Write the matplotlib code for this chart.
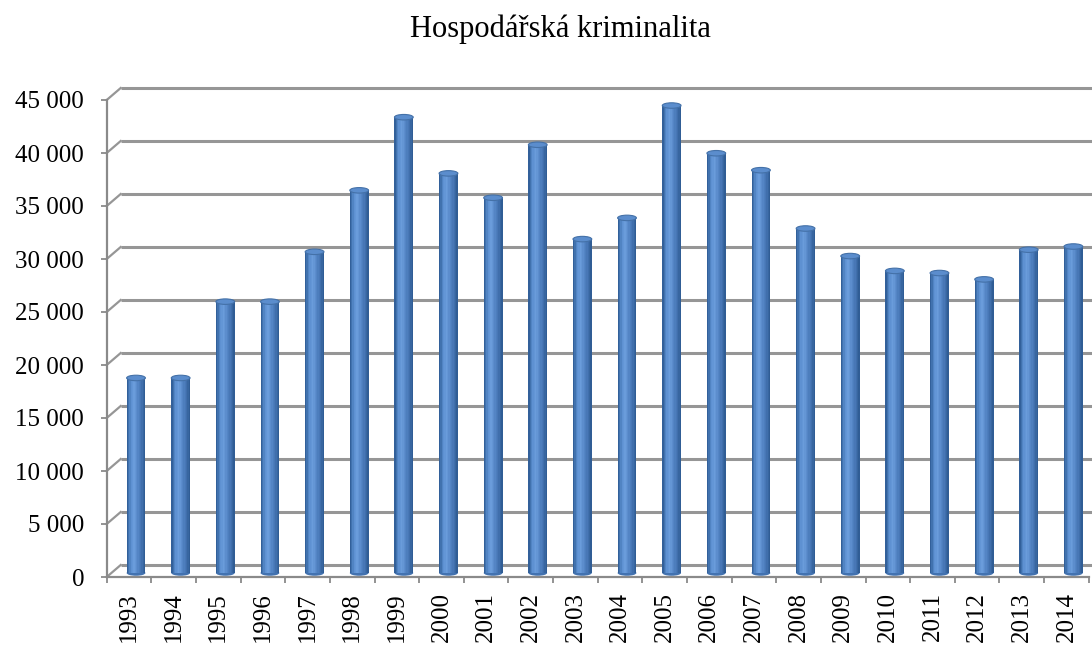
import matplotlib
matplotlib.use("Agg")
import matplotlib.pyplot as plt
import numpy as np
from matplotlib.patches import Ellipse
from matplotlib.transforms import ScaledTranslation
from matplotlib.colors import LinearSegmentedColormap

years = ["1993", "1994", "1995", "1996", "1997", "1998", "1999", "2000",
         "2001", "2002", "2003", "2004", "2005", "2006", "2007", "2008",
         "2009", "2010", "2011", "2012", "2013", "2014"]
values = [18400, 18400, 25600, 25600, 30300, 36100, 43000, 37700,
          35400, 40400, 31500, 33500, 44100, 39600, 38000, 32500,
          29900, 28500, 28300, 27700, 30500, 30800]
y_ticks = [0, 5000, 10000, 15000, 20000, 25000, 30000, 35000, 40000, 45000]
title = "Hospodářská kriminalita"

plt.rcParams["font.family"] = ["Liberation Serif", "DejaVu Serif"]

fig = plt.figure(figsize=(10.92, 6.46), dpi=100)
W, H = 1092, 646
# front axis box in pixels
x0, x1 = 106.7, 1088.7
y_top, y_zero = 100, 577
ax = fig.add_axes([x0 / W, (H - y_zero) / H, (x1 - x0) / W, (y_zero - y_top) / H])

n = len(years)
ymax = 45000
ax.set_xlim(0, n)
ax.set_ylim(0, ymax)
for s in ax.spines.values():
    s.set_visible(False)

grid_color = "#969696"
axis_color = "#8a8a8a"

# depth offset of back wall (pixels)
dx_px, dy_px = 14, 12
dx = dx_px * n / (x1 - x0)
dy = dy_px * ymax / (y_zero - y_top)

for t in y_ticks:
    ax.plot([0, dx], [t, t + dy], color=grid_color, lw=1.6, clip_on=False, zorder=1)
    ax.plot([dx, n + 1], [t + dy, t + dy], color=grid_color, lw=2.2,
            clip_on=False, zorder=1, solid_capstyle="butt")

# front axes lines
ax.plot([0, 0], [0, ymax], color=axis_color, lw=1.6, clip_on=False, zorder=2)
ax.plot([0, n], [0, 0], color=axis_color, lw=1.6, clip_on=False, zorder=2)

# cylinders sit half way into depth
bar_trans = ax.transData + ScaledTranslation(7 / 100, 4 / 100, fig.dpi_scale_trans)
cyl = LinearSegmentedColormap.from_list(
    "cyl", ["#32609a", "#5b8fd0", "#6b9ddc", "#5586c6", "#4574b3", "#305d95"])
w = 0.42
strips = 14
xs = np.arange(n) + 0.5
for k in range(strips):
    off = -w / 2 + (k + 0.5) * w / strips
    ax.bar(xs + off, values, width=w / strips * 1.05, color=cyl(k / (strips - 1)),
           transform=bar_trans, clip_on=False, zorder=3, linewidth=0)
eh = 5.5 * ymax / (y_zero - y_top)
for xi, v in zip(xs, values):
    ax.add_patch(Ellipse((xi, v), w, eh, facecolor="#5b8dcd", edgecolor="#4471a8",
                         lw=0.8, transform=bar_trans, clip_on=False, zorder=4))
    ax.add_patch(Ellipse((xi, 0), w, eh, facecolor="#4272b0", edgecolor="none",
                         transform=bar_trans, clip_on=False, zorder=2.5))

# ticks
ax.set_yticks(y_ticks)
ax.set_yticklabels([format(t, ",").replace(",", " ") for t in y_ticks])
ax.tick_params(axis="y", length=4.3, width=1.3, color=axis_color, pad=12,
               labelsize=18, direction="out")
ax.set_xticks(np.arange(n + 1))
ax.set_xticklabels([])
ax.set_xticks(xs, minor=True)
ax.set_xticklabels(years, minor=True, rotation=90, fontsize=18)
ax.tick_params(axis="x", which="major", length=4.5, width=1.3, color=axis_color,
               direction="out")
ax.tick_params(axis="x", which="minor", length=0, pad=11)

fig.text(0.513, 0.955, title, ha="center", va="center", fontsize=22)

fig.savefig("out.png", dpi=100)
